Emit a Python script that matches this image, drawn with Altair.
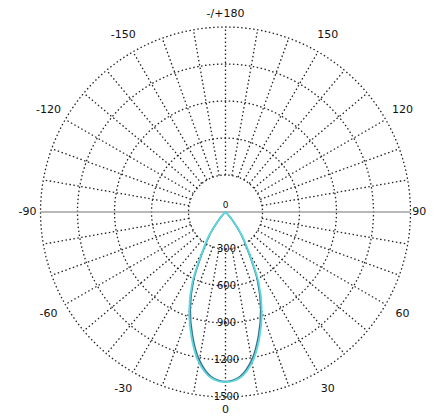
import altair as alt
import pandas as pd
import numpy as np

# ---- data ----
ring_values = [300, 600, 900, 1200, 1500]
ring_labels = ["300", "600", "900", "1200", "1500"]
spoke_angles = [a for a in range(-170, 181, 10) if a not in (90, -90)]
angle_label_angles = [0, 30, 60, 90, 120, 150, 180, -30, -60, -90, -120, -150]
angle_label_texts = ["0", "30", "60", "90", "120", "150", "-/+180",
                     "-30", "-60", "-90", "-120", "-150"]
curve_angles = [0, 5, 10, 15, 20, 25, 30, 35, 40, 45, 50]
c0_values = [1380, 1350, 1240, 1060, 860, 640, 380, 230, 100, 25, 0]
c90_values = [1375, 1340, 1220, 1035, 835, 615, 365, 215, 90, 20, 0]

# ---- layout ----
W, H = 419, 409
CX, CY = 217.5, 204.0
UPP = 1500 / 185.0
xdom = [-CX * UPP, (W - CX) * UPP]
ydom = [-(H - CY) * UPP, CY * UPP]
xs = alt.Scale(domain=xdom, nice=False, zero=False)
ys = alt.Scale(domain=ydom, nice=False, zero=False)

def X(f="x"):
    return alt.X(f"{f}:Q", scale=xs, axis=None)

def Y(f="y"):
    return alt.Y(f"{f}:Q", scale=ys, axis=None)

polar = dict(x="datum.r*sin(datum.t*PI/180)", y="-datum.r*cos(datum.t*PI/180)")

# rings
ring_rows = []
for rv in ring_values:
    for t in range(0, 361, 2):
        ring_rows.append({"ring": rv, "t": t, "r": rv})
rings = alt.Chart(pd.DataFrame(ring_rows)).transform_calculate(**polar).mark_line(
    color="#222222", strokeWidth=1.3, strokeDash=[1.5, 2.5]
).encode(x=X(), y=Y(), detail="ring:N", order="t:Q")

# spokes
sp = pd.DataFrame({"t": spoke_angles, "r1": ring_values[0], "r2": ring_values[-1]})
spokes = alt.Chart(sp).transform_calculate(
    x="datum.r1*sin(datum.t*PI/180)", y="-datum.r1*cos(datum.t*PI/180)",
    x2="datum.r2*sin(datum.t*PI/180)", y2="-datum.r2*cos(datum.t*PI/180)",
).mark_rule(color="#222222", strokeWidth=1.3, strokeDash=[1.5, 2.5]).encode(
    x=X(), y=Y(), x2="x2:Q", y2="y2:Q"
)

# horizontal axis line
hl = pd.DataFrame({"x": [-ring_values[-1]], "x2": [ring_values[-1]], "y": [0]})
hline = alt.Chart(hl).mark_rule(color="#a0a0a0", strokeWidth=1.6).encode(
    x=X(), x2="x2:Q", y=Y()
)

# curves
def curve_df(vals):
    rows = []
    for a, v in zip(curve_angles, vals):
        rows.append({"t": a, "r": v})
        if a != 0:
            rows.append({"t": -a, "r": v})
    return pd.DataFrame(rows)

curve90 = alt.Chart(curve_df(c90_values)).transform_calculate(**polar).mark_line(
    strokeWidth=1.6, color="#3a6f8a", interpolate="catmull-rom"
).encode(x=X(), y=Y(), order="t:Q")
curve0 = alt.Chart(curve_df(c0_values)).transform_calculate(**polar).mark_line(
    strokeWidth=1.8, color="#5ad6dc", interpolate="catmull-rom"
).encode(x=X(), y=Y(), order="t:Q")

# angle labels
al = pd.DataFrame({"t": angle_label_angles, "label": angle_label_texts})
alabels = alt.Chart(al).transform_calculate(
    r="datum.t == 90 ? 1570 : 1605 + 60*abs(sin(2*datum.t*PI/180))"
).transform_calculate(**polar).mark_text(
    fontSize=11, font="DejaVu Sans", color="#111111", align="center", baseline="middle"
).encode(x=X(), y=Y(), text="label:N")

# radial labels
rl = pd.DataFrame({"r": ring_values, "label": ring_labels})
rlabels = alt.Chart(rl).transform_calculate(x="0", y="-datum.r").mark_text(
    fontSize=10, font="DejaVu Sans", color="#111111", align="center", baseline="middle", dx=1
).encode(x=X(), y=Y(), text="label:N")

zl = pd.DataFrame({"x": [0], "y": [0], "label": ["0"]})
zlabel = alt.Chart(zl).mark_text(
    fontSize=9, font="DejaVu Sans", color="#111111", align="center", baseline="bottom", dy=-2
).encode(x=X(), y=Y(), text="label:N")

chart = alt.layer(rings, spokes, hline, curve90, curve0, alabels, rlabels, zlabel).properties(
    width=W, height=H, padding=0, autosize=alt.AutoSizeParams(type="none"),
    background="white",
).configure_view(stroke=None)

chart.save("out.html", embed_options={"renderer": "svg", "actions": False})
